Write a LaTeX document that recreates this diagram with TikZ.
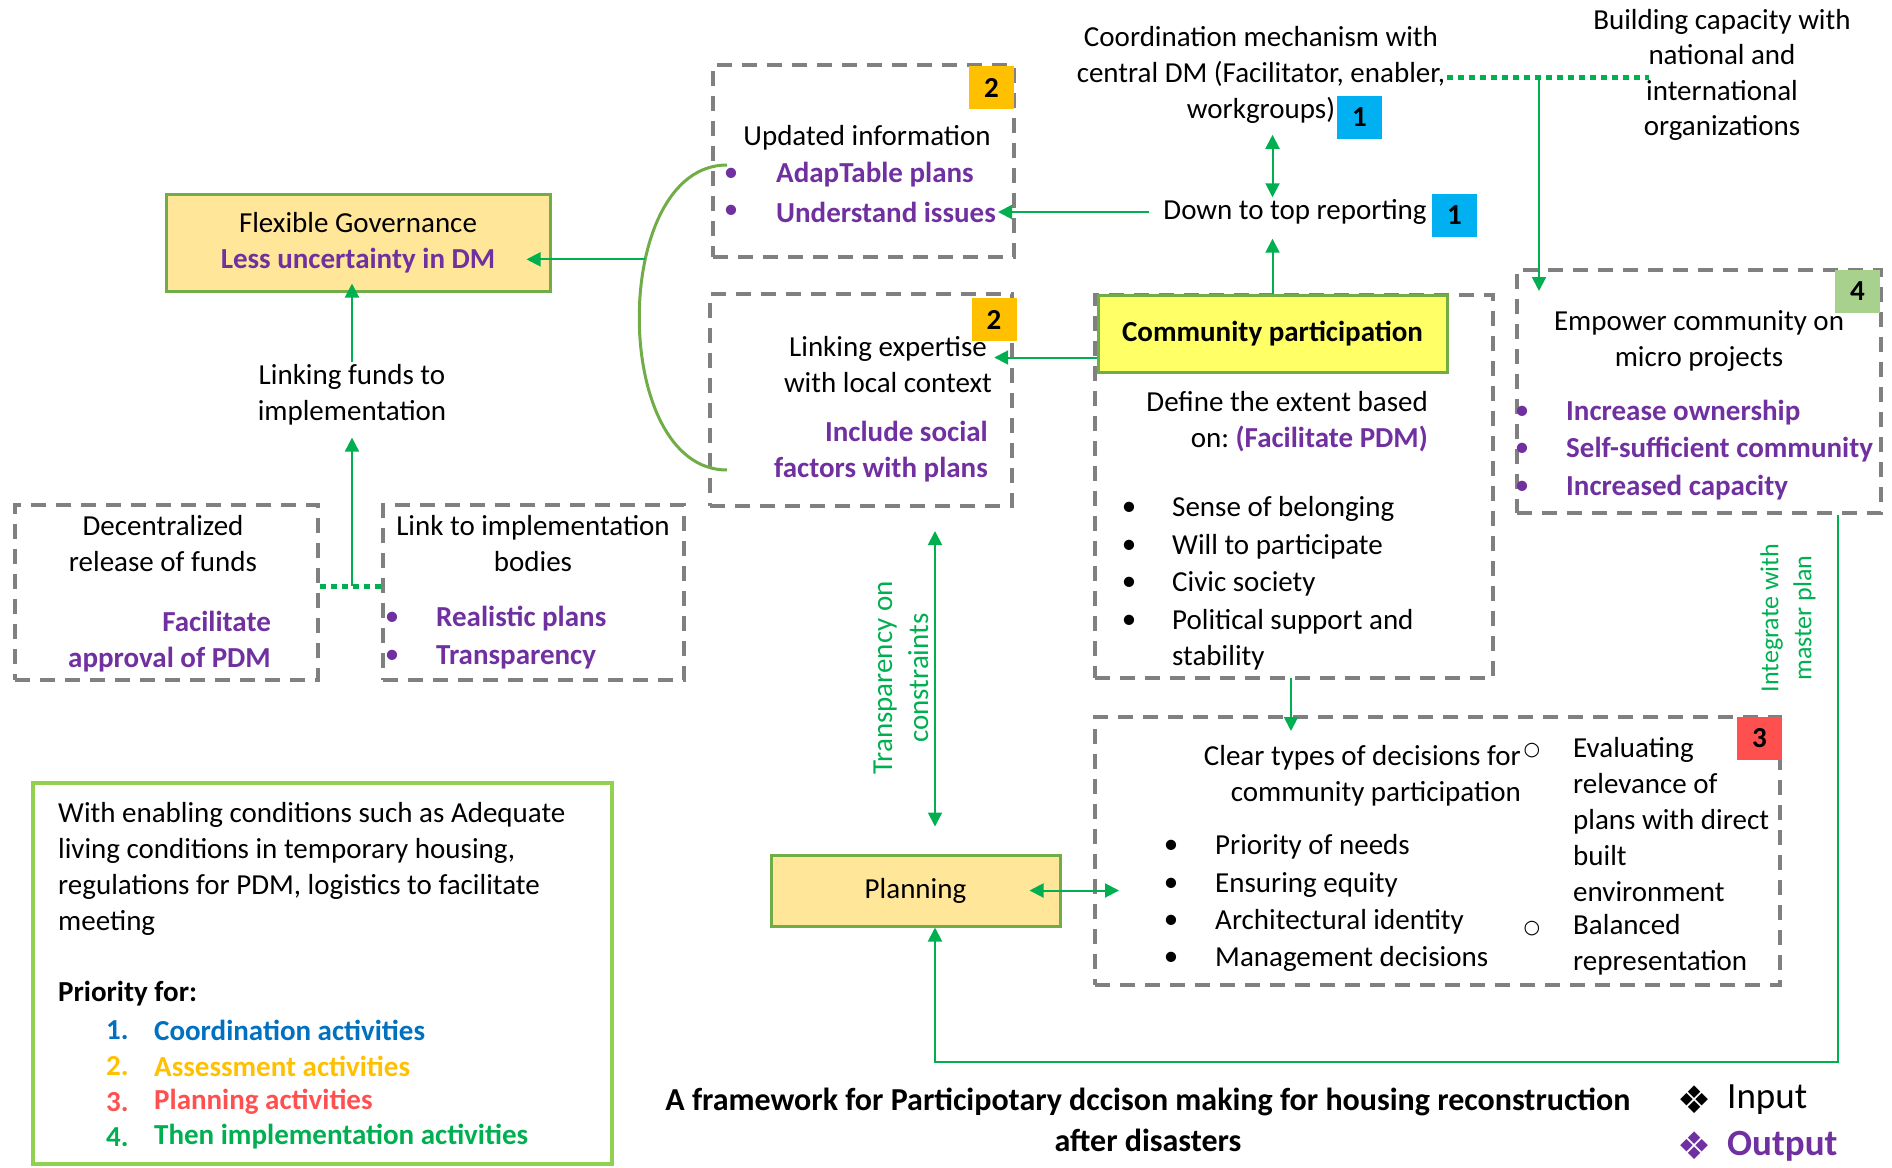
\documentclass[tikz,border=0pt]{standalone}
\usepackage{fontspec}
\setmainfont{Carlito}
\newfontfamily\symf{DejaVu Sans}
\usetikzlibrary{arrows.meta}
\definecolor{arrgreen}{HTML}{00B050}
\definecolor{boxgreen}{HTML}{70AD47}
\definecolor{legreen}{HTML}{92D050}
\definecolor{outpurple}{HTML}{7030A0}
\definecolor{dashgray}{HTML}{808080}
\definecolor{palegold}{HTML}{FFE699}
\definecolor{lemon}{HTML}{FFFF66}
\definecolor{badgeblue}{HTML}{00B0F0}
\definecolor{badgegold}{HTML}{FFC000}
\definecolor{badgered}{HTML}{FF5050}
\definecolor{badgegreen}{HTML}{A9D18E}
\definecolor{listblue}{HTML}{0070C0}
\newcommand{\bodysize}{\fontsize{29}{36}\selectfont}

\begin{document}
\begin{tikzpicture}[x=1pt, y=-1pt,
  >={Triangle[length=14pt, width=14pt]},
  every node/.style={font=\bodysize, inner sep=2pt},
  dashbox/.style 2 args={draw=dashgray, line width=4pt, dash pattern=on 15pt off 10pt,
    minimum width=#1, minimum height=#2, inner sep=0pt},
  solidbox/.style 2 args={draw=boxgreen, line width=3pt,
    minimum width=#1, minimum height=#2, inner sep=0pt},
  badge/.style={fill=#1, minimum width=45pt, minimum height=43pt, inner sep=0pt,
    font=\bodysize\bfseries},
  outtxt/.style={text=outpurple, font=\bodysize\bfseries},
  bul/.style={text=#1},
  hollow/.style={font=\symf\fontsize{19}{19}\selectfont},
  keysym/.style={font=\symf\fontsize{38}{38}\selectfont},
  arr/.style={->, arrgreen, line width=2pt},
  darr/.style={<->, arrgreen, line width=2pt},
  dotg/.style={arrgreen, line width=5pt, dash pattern=on 6pt off 5pt},
]
\useasboundingbox (0,0) rectangle (1892,1167);

% =============================================
% Frames
% =============================================
\node[dashbox={301pt}{192pt}] (upd) at (863.5,161) {};
\node[dashbox={302pt}{212pt}] (exp) at (861,400) {};
\node[dashbox={303pt}{175pt}] (dec) at (166.5,592.5) {};
\node[dashbox={301pt}{175pt}] (link) at (533.5,592.5) {};
\node[dashbox={398pt}{383pt}] (commd) at (1294,486.5) {};
\node[dashbox={364pt}{243pt}] (emp) at (1699,391.5) {};
\node[dashbox={685pt}{268pt}] (clear) at (1437.5,851) {};

\node[solidbox={384pt}{97pt}, fill=palegold, align=center] (flex) at (358,242.5)
  {Flexible Governance\\{\color{outpurple}\bfseries Less uncertainty in DM}};
\node[solidbox={349pt}{77pt}, fill=lemon, font=\bodysize\bfseries] (comm) at (1272.5,333.5)
  {Community participation};
\node[solidbox={289pt}{71pt}, fill=palegold] (plan) at (915.5,890.5) {Planning};

\node[draw=legreen, line width=3.5pt, minimum width=579pt, minimum height=381pt] (leg)
  at (322.5,973.5) {};

% Priority badges
\node[badge=badgeblue] (b1a) at (1359.5,117.5) {1};
\node[badge=badgeblue] (b1b) at (1454.5,215.5) {1};
\node[badge=badgegold] (b2a) at (991.5,87.5) {2};
\node[badge=badgegold] (b2b) at (994,319.5) {2};
\node[badge=badgered] (b3) at (1759.5,738.5) {3};
\node[badge=badgegreen] (b4) at (1857.5,291) {4};

% =============================================
% Top: coordination and reporting
% =============================================
\node[align=center] (coord) at (1261,75)
  {Coordination mechanism with\\central DM (Facilitator, enabler,\\workgroups)};
\node[align=center, font=\fontsize{29}{35.5}\selectfont] (build) at (1722,75)
  {Building capacity with\\national and\\international\\organizations};
\node (report) at (1295,212) {Down to top reporting};

\node (updt) at (867,138) {Updated information};
\node[bul=outpurple] (ub1) at (731,175) {•};
\node[bul=outpurple] (ub2) at (731,212) {•};
\node[outtxt, anchor=west] (adap) at (774,175) {AdapTable plans};
\node[outtxt, anchor=west] (iss) at (774,212) {Understand issues};

% =============================================
% Left: funds
% =============================================
\node[align=center] (funds) at (352,395) {Linking funds to\\implementation};
\node[align=center] (dect) at (163,543.5) {Decentralized\\release of funds};
\node[outtxt, align=right, anchor=east] (deco) at (273,642) {Facilitate\\approval of PDM};
\node[align=center] (linkt) at (533,543.5) {Link to implementation\\bodies};
\node[bul=outpurple] (lb1) at (392,619) {•};
\node[bul=outpurple] (lb2) at (392,657) {•};
\node[outtxt, anchor=west] (real) at (434,619) {Realistic plans};
\node[outtxt, anchor=west] (transp) at (434,657) {Transparency};

% =============================================
% Middle: expertise and community
% =============================================
\node[align=center] (expt) at (888,365) {Linking expertise\\with local context};
\node[outtxt, align=right, anchor=east] (expo) at (990,452) {Include social\\factors with plans};

\node[align=right, anchor=east] (deft) at (1430,422)
  {Define the extent based\\on:~\textcolor{outpurple}{\bfseries(Facilitate PDM)}};
\node (cb1) at (1129,509) {•};
\node (cb2) at (1129,547) {•};
\node (cb3) at (1129,584) {•};
\node (cb4) at (1129,622) {•};
\node[anchor=west] (sense) at (1170,509) {Sense of belonging};
\node[anchor=west] (will) at (1170,547) {Will to participate};
\node[anchor=west] (civic) at (1170,584) {Civic society};
\node[anchor=west] (polit) at (1170,622) {Political support and};
\node[anchor=west] (stab) at (1170,658) {stability};

% =============================================
% Right: empowerment
% =============================================
\node[align=center] (empt) at (1699,341.5) {Empower community on\\micro projects};
\node[bul=outpurple] (eb1) at (1522,413) {•};
\node[bul=outpurple] (eb2) at (1522,450) {•};
\node[bul=outpurple] (eb3) at (1522,488) {•};
\node[outtxt, anchor=west] (own) at (1564,413) {Increase ownership};
\node[outtxt, anchor=west] (self) at (1564,450) {Self-sufficient community};
\node[outtxt, anchor=west] (cap) at (1564,488) {Increased capacity};
\node[rotate=90, align=center, text=arrgreen, font=\fontsize{26}{33}\selectfont] (integ)
  at (1788,618) {Integrate with\\master plan};

% =============================================
% Bottom: decisions and planning
% =============================================
\node[align=right, anchor=east] (cleart) at (1523,776)
  {Clear types of decisions for\\community participation};
\node (db1) at (1171,847) {•};
\node (db2) at (1171,885) {•};
\node (db3) at (1171,922) {•};
\node (db4) at (1171,959) {•};
\node[anchor=west] (prior) at (1213,847) {Priority of needs};
\node[anchor=west] (equity) at (1213,885) {Ensuring equity};
\node[anchor=west] (arch) at (1213,922) {Architectural identity};
\node[anchor=west] (manag) at (1213,959) {Management decisions};
\node[hollow] (hc1) at (1532,751) {○};
\node[hollow] (hc2) at (1532,929) {○};
\node[align=left, anchor=west] (evalt) at (1571,820)
  {Evaluating\\relevance of\\plans with direct\\built\\environment};
\node[align=left, anchor=west] (balt) at (1571,945) {Balanced\\representation};

\node[rotate=90, align=center, text=arrgreen] (transpt) at (901,678)
  {Transparency on\\constraints};

% =============================================
% Enabling conditions
% =============================================
\node[align=left, anchor=west] (legt) at (56,869)
  {With enabling conditions such as Adequate\\living conditions in temporary housing,\\regulations for PDM, logistics to facilitate\\meeting};
\node[font=\bodysize\bfseries, anchor=west] (prio) at (56,994) {Priority for:};
\foreach \num/\col/\txt/\yy in {1/listblue/Coordination activities/1030,
    2/badgegold/Assessment activities/1066, 3/badgered/Planning activities/1102,
    4/arrgreen/Then implementation activities/1137}{
  \node[font=\bodysize\bfseries, text=\col, anchor=west] (num\num) at (104,\yy) {\num.};
  \node[font=\bodysize\bfseries, text=\col, anchor=west] (pr\num) at (152,\yy) {\txt};
}

% Title and key
\node[font=\fontsize{32}{41}\selectfont\bfseries, align=center] (title) at (1148,1120)
  {A framework for Participotary dccison making for housing reconstruction\\after disasters};
\node[keysym] (kin) at (1695,1100) {❖};
\node[font=\fontsize{37}{40}\selectfont, anchor=west] (kint) at (1725,1100) {Input};
\node[keysym, text=outpurple] (kout) at (1695,1146) {❖};
\node[font=\fontsize{37}{40}\selectfont\bfseries, text=outpurple, anchor=west] (koutt)
  at (1725,1146) {Output};

% =============================================
% Connectors
% =============================================
\draw[boxgreen, line width=3pt] (727,165) .. controls (610,165) and (610,470)
  .. coordinate[pos=0.37] (arcl) (727,470);
\draw[arr, shorten >=-25pt] (arcl) -- (flex.east |- arcl);

\draw[arr, shorten >=-9pt] (funds.north) -- (funds.north |- flex.south);
\coordinate (fj) at (352,586);
\draw[dotg] (fj -| dec.east) -- (fj -| link.west);
\draw[arr, shorten >=10pt] (fj) -- (funds.south);

\draw[arr, shorten <=12pt] (report.west) -- (iss.east |- report.west);
\draw[darr, shorten <=9pt] (coord.south -| comm.north) -- (report.north -| comm.north);
\draw[arr, shorten >=12pt] (comm.north) -- (comm.north |- report.south);

\coordinate (dr) at (1649,77);
\coordinate (dm) at (1539,77);
\draw[dotg] (coord.east |- dr) -- (dr);
\draw[arr, shorten >=-23pt] (dm) -- (dm |- emp.north);

\coordinate (cw) at ([yshift=-24pt]comm.west);
\draw[arr] (cw) -- (cw -| expt.east);

\coordinate (cdrop) at (1291,678);
\draw[arr, shorten >=-16pt] (cdrop) -- (cdrop |- clear.north);

\draw[darr, shorten <=-32pt, shorten >=-26pt] (plan.east) -- (plan.east -| clear.west);

\coordinate (vt) at (935,531);
\draw[darr, shorten >=27pt] (vt) -- (vt |- plan.north);

\coordinate (ret) at (1838,1062);
\draw[arr] (ret |- emp.south) -- (ret) -| (vt |- plan.south);

\end{tikzpicture}
\end{document}
